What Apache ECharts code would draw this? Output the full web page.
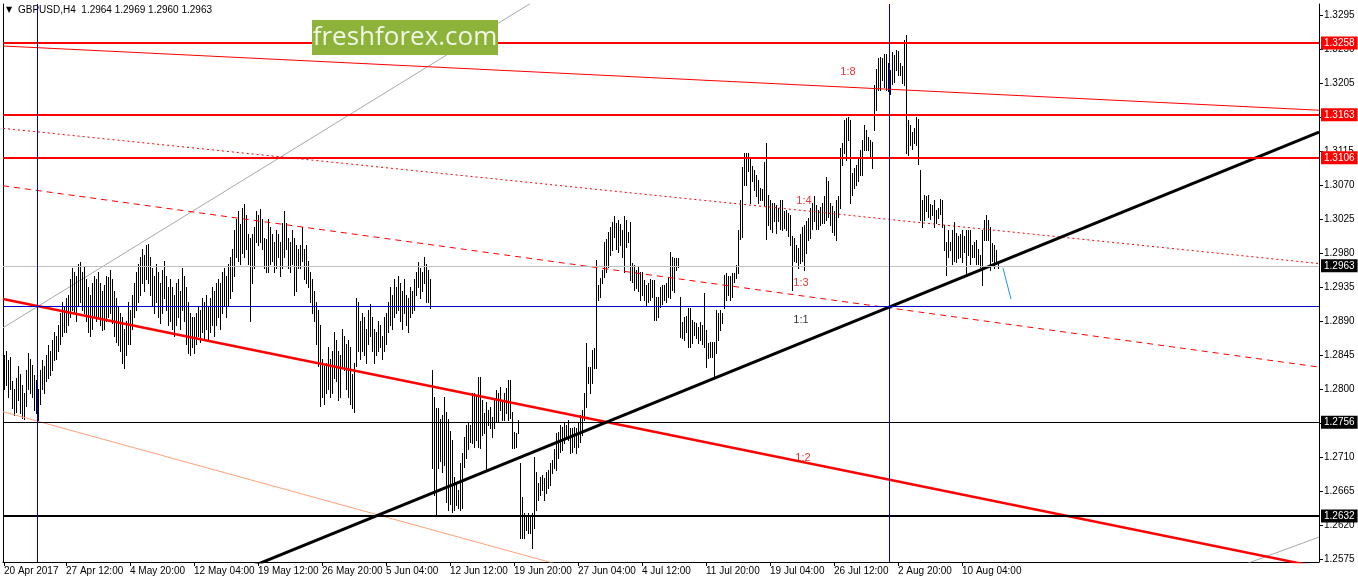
<!DOCTYPE html>
<html><head><meta charset="utf-8">
<script src="https://cdn.jsdelivr.net/npm/echarts@6/dist/echarts.min.js"></script>
<style>html,body{margin:0;padding:0;background:#fff}#c{width:1358px;height:584px}</style>
</head><body><div id="c"></div>
<script>
// ---------- data ----------
const symbolTitle = 'GBPUSD,H4';
const quote = [1.2964, 1.2969, 1.2960, 1.2963]; // open high low close of last bar
// H4 bar highs / lows, in units of 0.0001
const barHigh = [
12845,12850,12838,12842,12810,12800,12815,12830,12820,12805,12795,12825,12848,12840,12832,12818,12812,12800,12825,12838,12830,12845,12858,12850,12865,12875,12870,12885,12900,12915,12910,
12920,12925,12945,12960,12955,12950,12965,12968,12955,12962,12945,12935,12925,12940,12950,12945,12955,12940,12930,12938,12950,12948,12958,12945,12930,12920,12910,12900,12895,12880,12890,12915,
12905,12925,12940,12955,12965,12975,12985,12978,12990,12992,12975,12960,12950,12965,12955,12940,12958,12970,12950,12935,12945,12935,12925,12940,12945,12930,12960,12950,12935,12915,12900,12895,
12895,12900,12910,12905,12920,12915,12925,12910,12920,12935,12930,12940,12945,12940,12955,12960,12950,12965,12975,12985,13010,13025,13035,13018,13040,13045,13030,13005,13000,13005,13015,13035,
13030,13038,13025,13000,12998,13025,13015,13005,12995,13010,13005,12995,13020,13035,13020,13000,12995,13010,13000,12990,12985,12990,13015,12985,12990,12970,12955,12945,12930,12915,12905,12885,
12840,12830,12835,12855,12840,12850,12875,12865,12850,12845,12880,12870,12860,12865,12855,12820,12835,12920,12915,12890,12900,12895,12880,12905,12912,12895,12880,12875,12890,12885,12870,12895,
12900,12915,12935,12925,12945,12935,12950,12940,12930,12945,12925,12920,12935,12930,12945,12955,12968,12960,12955,12975,12965,12958,12945,12825,12790,12775,12775,12760,12765,12790,12770,12760,
12745,12732,12684,12676,12666,12702,12715,12737,12752,12755,12752,12795,12795,12792,12816,12816,12785,12768,12783,12772,12776,12763,12785,12799,12795,12803,12785,12795,12801,12812,12812,12770,12743,12742,12759,12702,12657,12636,12633,12636,12631,12636,12710,12690,12676,12684,12686,12682,12690,12693,12702,12706,12720,12742,12743,12752,12750,12755,12752,12759,12748,12748,12750,12748,12756,12765,12772,12795,12861,12829,12829,12852,12854,12971,12938,
12947,12958,12995,12999,13008,13014,13021,13029,13020,13024,13018,13010,13029,13024,13008,13021,12967,12964,12958,12962,12955,12955,12944,12938,12940,12945,12944,12944,12922,12922,12935,12938,12938,12940,12948,12981,12975,12973,12973,12973,12922,12889,12895,12896,12907,12907,12891,12889,12887,12882,12889,12885,12927,12878,12861,12862,12862,12862,
12905,12901,12905,12901,12951,12954,12950,12950,12954,12954,12964,13010,13050,
13094,13112,13113,13112,13106,13095,13090,13083,13077,13066,13065,13101,13126,13057,13050,13046,13046,13043,13040,13050,13050,13035,13037,13033,13030,13003,13000,12990,12987,13005,13015,13017,13022,13026,13039,13046,13055,13044,13037,13041,13046,13055,13080,13075,13046,13042,13035,13050,13055,13119,13126,13156,13159,13160,13156,13086,13093,13097,13106,13116,13130,13149,13143,13134,13130,13127,13202,13224,13238,13240,13238,13244,13244,13231,13222,13246,13242,13249,13247,13231,13227,13262,13268,13156,13149,13140,13145,13160,13158,13090,13050,13057,13055,13057,
13045,13044,13050,13037,13040,13052,13050,13017,12995,13010,12995,13010,13021,13006,13003,13005,13010,13003,13010,13010,13010,12990,12995,12997,12985,12977,13010,13024,13030,13024,13014,12993,12990,12984,12969
];
const barLow = [
12800,12805,12790,12800,12775,12765,12770,12785,12768,12762,12760,12778,12800,12795,12790,12772,12768,12758,12780,12800,12795,12810,12815,12818,12825,12838,12840,12850,12860,12870,12875,
12875,12885,12895,12905,12900,12890,12910,12915,12905,12900,12890,12875,12870,12880,12895,12890,12895,12885,12878,12880,12890,12895,12900,12888,12870,12862,12858,12850,12835,12828,12845,12860,
12860,12880,12895,12905,12915,12925,12940,12930,12945,12940,12925,12910,12900,12915,12895,12888,12900,12920,12905,12885,12890,12880,12870,12885,12895,12880,12905,12890,12860,12848,12845,12855,
12848,12860,12870,12862,12875,12868,12880,12865,12875,12885,12870,12885,12895,12880,12900,12910,12895,12910,12920,12930,12950,12975,12970,12965,12980,12975,12985,12965,12890,12940,12960,12995,
12990,12995,12985,12960,12955,12955,12965,12970,12955,12960,12975,12950,12960,12975,12985,12960,12955,12965,12925,12930,12960,12960,12970,12945,12940,12935,12915,12900,12890,12860,12830,12778,
12790,12780,12795,12800,12790,12795,12815,12810,12785,12790,12830,12825,12800,12790,12780,12775,12770,12830,12850,12840,12850,12845,12835,12860,12870,12850,12835,12845,12850,12855,12840,12850,
12860,12875,12885,12880,12895,12900,12905,12890,12880,12900,12885,12875,12895,12900,12905,12925,12935,12920,12930,12940,12915,12915,12907,12695,12660,12632,12695,12705,12690,12700,12650,12640,
12648,12637,12640,12647,12643,12640,12643,12697,12709,12720,12730,12729,12723,12732,12723,12722,12739,12742,12693,12752,12748,12737,12748,12756,12756,12772,12759,12759,12768,12759,12762,12722,12722,12723,12742,12603,12603,12603,12613,12610,12610,12590,12616,12640,12653,12660,12666,12653,12662,12669,12673,12689,12695,12693,12709,12717,12719,12729,12736,12732,12715,12717,12723,12715,12723,12730,12739,12759,12776,12808,12795,12808,12828,12828,12918,
12922,12940,12948,12955,12962,12977,12984,13001,12985,12981,12990,12975,12955,12988,12995,12944,12942,12931,12934,12930,12918,12925,12918,12911,12915,12918,12922,12891,12891,12895,12909,12913,12918,12915,12922,12920,12931,12928,12958,12962,12869,12868,12865,12875,12856,12855,12861,12872,12868,12861,12865,12860,12856,12829,12841,12843,12843,12816,
12848,12865,12878,12888,12907,12918,12925,12918,12922,12941,12947,12954,12999,
13001,13070,13070,13088,13046,13075,13063,13055,13046,13050,13050,13043,12999,13017,13012,13008,13022,13006,13022,13012,13010,13013,13010,13003,12990,12931,12970,12968,12960,12967,12969,12958,12980,12997,13000,13012,13022,13012,13012,13017,13020,13020,13024,13028,13017,13008,13004,12997,13028,13040,13097,13112,13103,13130,13046,13057,13066,13070,13075,13083,13083,13116,13116,13117,13106,13092,13143,13169,13196,13196,13209,13200,13196,13194,13191,13204,13207,13222,13216,13216,13205,13202,13113,13110,13123,13118,13125,13123,13098,13024,13015,13024,13035,13028,
13025,13030,13015,13020,13026,13032,13015,12984,12951,12975,12984,12966,12969,12968,12973,12975,12968,12981,12951,12978,12966,12975,12975,12966,12965,12962,12938,12997,12997,12997,12958,12970,12960,12966,12960
];
const dateTickBars = [0,31,63,95,127,159,191,223,255,287,319,351,383,415,447,479];
const dateTickLabels = ['20 Apr 2017','27 Apr 12:00','4 May 20:00','12 May 04:00','19 May 12:00','26 May 20:00','5 Jun 04:00','12 Jun 12:00','19 Jun 20:00','27 Jun 04:00','4 Jul 12:00','11 Jul 20:00','19 Jul 04:00','26 Jul 12:00','2 Aug 20:00','10 Aug 04:00'];
const priceTicks = [1.2575,1.2620,1.2665,1.2710,1.2755,1.2800,1.2845,1.2890,1.2935,1.2980,1.3025,1.3070,1.3115,1.3160,1.3205,1.3250,1.3295];
const redLevels = [1.3258, 1.3163, 1.3106];
const blackLevels = [1.2756, 1.2632];
const bidPrice = 1.2963;
const crossPrice = 1.2909;
const crossBars = [16.5, 442.5];
// trend lines: [bar index, price] end points
const lineFan18 = [[-0.5, 1.3254], [657.5, 1.3169]];
const lineFan14 = [[-0.5, 1.3145], [657.5, 1.2966]];
const lineFan13 = [[-0.5, 1.3069], [657.5, 1.2829]];
const lineFan12 = [[-0.5, 1.2919], [657.5, 1.2564]];
const lineSalmon = [[-0.5, 1.2770], [348, 1.2516]];
const lineGrayUp = [[-0.5, 1.2881], [263, 1.3310]];
const lineGrayLow = [[620.5, 1.2568], [657.5, 1.2604]];
const lineTrend = [[123, 1.2564], [657.5, 1.3140]];
const lineArrow = [[499.5, 1.2960], [503.5, 1.2919]];
const fanLabels = [
  {name:'1:8', value:[422, 1.3220], color:'#e00000'},
  {name:'1:4', value:[400, 1.3049], color:'#e00000'},
  {name:'1:3', value:[398.5, 1.2940], color:'#e00000'},
  {name:'1:1', value:[398.5, 1.2891], color:'#000000'},
  {name:'1:2', value:[399.5, 1.2709], color:'#e00000'}
];

// ---------- chart ----------
const FONT = 'Liberation Sans';
const chart = echarts.init(document.getElementById('c'), null, {renderer:'canvas'});
const bars = barHigh.map((h, i) => [i, h / 10000, barLow[i] / 10000]);

function seg(pts, color, width, type, z) {
  return {type:'line', data: pts, symbol:'none', silent:true, clip:true, z: z || 3,
    lineStyle:{color: color, width: width, type: type || 'solid'}, animation:false};
}
function lvlLabel(bg) {
  return {show:true, position:'end', distance:2, formatter: p => Number(p.value).toFixed(4),
    backgroundColor: bg, color:'#fff', padding:[2,3,1,3], fontSize:10, fontFamily: FONT};
}
const markData = [];
redLevels.forEach(v => markData.push({yAxis:v, lineStyle:{color:'#ff0000', width:2, type:'solid'}, label: lvlLabel('#ff0000')}));
markData.push({yAxis:blackLevels[0], lineStyle:{color:'#000', width:1, type:'solid'}, label: lvlLabel('#000')});
markData.push({yAxis:blackLevels[1], lineStyle:{color:'#000', width:2, type:'solid'}, label: lvlLabel('#000')});
markData.push({yAxis:bidPrice, lineStyle:{color:'#c0c0c0', width:1, type:'solid'}, label: lvlLabel('#000')});
markData.push({yAxis:crossPrice, lineStyle:{color:'#0000c8', width:1, type:'solid'}, label:{show:false}});
crossBars.forEach(b => markData.push({xAxis:b, lineStyle:{color:'#0000c8', width:1, type:'solid'}, label:{show:false}}));

const option = {
  animation:false,
  backgroundColor:'#ffffff',
  grid:{left:3, right:39, top:4, bottom:22, containLabel:false},
  xAxis:{
    type:'value', min:-0.5, max:657.5,
    axisLine:{show:true, lineStyle:{color:'#000', width:1}},
    axisTick:{show:true, customValues: dateTickBars, length:4, lineStyle:{color:'#000'}},
    axisLabel:{show:true, customValues: dateTickBars, align:'left', margin:4, fontSize:10, fontFamily:FONT, color:'#000',
      formatter: v => { const k = dateTickBars.indexOf(Math.round(v)); return k >= 0 ? dateTickLabels[k] : ''; }},
    splitLine:{show:false}
  },
  yAxis:[{
    type:'value', position:'right', min:1.25710, max:1.33096, scale:true,
    axisLine:{show:true, onZero:false, lineStyle:{color:'#000', width:1}},
    axisTick:{show:true, customValues: priceTicks, length:4, lineStyle:{color:'#000'}},
    axisLabel:{show:true, customValues: priceTicks, margin:5, fontSize:10, fontFamily:FONT, color:'#000',
      formatter: v => v.toFixed(4)},
    splitLine:{show:false}
  },{
    type:'value', position:'left', min:1.25710, max:1.33096,
    axisLine:{show:true, onZero:false, lineStyle:{color:'#000', width:1}},
    axisTick:{show:false}, axisLabel:{show:false}, splitLine:{show:false}
  }],
  graphic:[
    {type:'text', left:6, top:6, style:{text:'▼', fontSize:8, fill:'#000', fontFamily:'DejaVu Sans'}},
    {type:'text', left:18, top:5, style:{text: symbolTitle + '  ' + quote.map(q => q.toFixed(4)).join(' '), fontSize:10, fill:'#000', fontFamily:FONT}},
    {type:'group', left:312, top:20, zlevel:1, z:100, children:[
      {type:'rect', zlevel:1, z:100, shape:{x:0, y:0, width:186, height:35}, style:{fill:'#8db33b'}},
      {type:'text', zlevel:1, z:101, x:93, y:18, style:{text:'freshforex.com', fontSize:26, fill:'#f2f7e6', fontFamily:'Open Sans', align:'center', verticalAlign:'middle'}}
    ]}
  ],
  series:[
    seg(lineGrayUp, '#a8a8a8', 1, 'solid', 1),
    seg(lineGrayLow, '#a8a8a8', 1, 'solid', 1),
    {
      type:'custom', data: bars, encode:{x:0, y:[1,2]}, z:2, silent:true, clip:true,
      renderItem: function(params, api) {
        const i = api.value(0);
        const h = api.coord([i, api.value(1)]);
        const l = api.coord([i, api.value(2)]);
        const x = Math.floor(h[0]) + 0.5;
        return {type:'line', shape:{x1:x, y1:Math.round(h[1]), x2:x, y2:Math.round(l[1]) + 1},
          style:{stroke:'#000', lineWidth:1}};
      },
      markLine:{silent:true, precision:4, symbol:['none','none'], animation:false, data: markData}
    },
    seg(lineFan18, '#ff0000', 1),
    seg(lineFan14, '#ff0000', 1, [2,3]),
    seg(lineFan13, '#ff0000', 1, [6,5]),
    seg(lineFan12, '#ff0000', 2.5),
    seg(lineSalmon, '#ffa07a', 1),
    seg(lineTrend, '#000000', 3, 'solid', 4),
    seg(lineArrow, '#1e90ff', 1, 'solid', 4),
    {
      type:'scatter', symbolSize:0, silent:true, z:5,
      data: fanLabels.map(d => ({name:d.name, value:d.value,
        label:{show:true, position:'inside', formatter:d.name, color:d.color, fontSize:11, fontFamily:FONT}}))
    }
  ]
};
chart.setOption(option);
</script></body></html>
